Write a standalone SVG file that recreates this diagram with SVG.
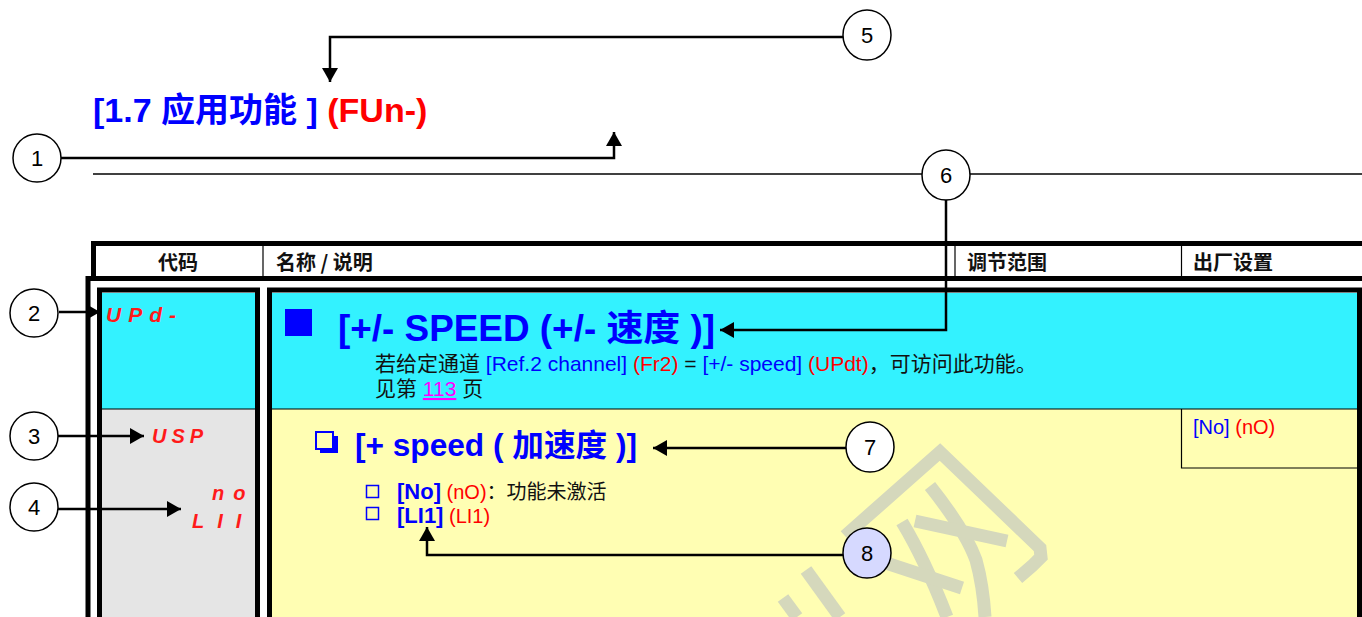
<svg xmlns="http://www.w3.org/2000/svg" width="1362" height="617" viewBox="0 0 1362 617">
<style>
  .lat { font-family: "Liberation Sans", "Noto Sans CJK SC", Arial, sans-serif; }
  .cjk { font-family: "Liberation Sans", "Noto Sans CJK SC", sans-serif; }
  .hdr { font-family: "Noto Sans CJK SC", "Liberation Sans", sans-serif; font-size: 20px; font-weight: bold; fill: #111; }
  .seg { font-family: "Liberation Sans", sans-serif; font-style: italic; font-weight: bold; fill: #ff1a1a; }
  .blue { fill: #0000ff; }
  .red { fill: #ff0000; }
  .blk { fill: #111; }
  .mag { fill: #ff00ff; }
  .callout ellipse { fill: #ffffff; stroke: #000; stroke-width: 1.5; }
  .callout text { font-family: "Liberation Sans", sans-serif; font-size: 22px; fill: #000; text-anchor: middle; }
  .conn { fill: none; stroke: #000; stroke-width: 2.5; }
  .thick { fill: none; stroke: #000; stroke-width: 5; }
  .thin { fill: none; stroke: #000; stroke-width: 1.2; }
  .wm { fill: none; stroke: #d5d8bc; stroke-width: 13; stroke-linecap: butt; stroke-linejoin: miter; }
</style>
<defs>
  <marker id="ah" markerWidth="14" markerHeight="16" refX="14" refY="8" orient="auto" markerUnits="userSpaceOnUse">
    <path d="M0,0 L14,8 L0,16 z" fill="#000"/>
  </marker>
</defs>
<rect width="1362" height="617" fill="#ffffff"/>

<!-- title -->
<g id="title">
  <text class="cjk" x="93" y="122" font-size="34" font-weight="bold"><tspan class="blue">[1.7 应用功能 ]</tspan><tspan class="red"> (FUn-)</tspan></text>
</g>

<!-- separator line -->
<line x1="93" y1="174" x2="1362" y2="174" stroke="#000" stroke-width="1.3"/>

<!-- table frame -->
<g id="table">
  <rect x="93.5" y="243.5" width="1280" height="35" fill="#ffffff"/>
  <line x1="91" y1="243.5" x2="1362" y2="243.5" class="thick"/>
  <line x1="93.5" y1="243" x2="93.5" y2="279" class="thick"/>
  <line x1="86" y1="278.5" x2="1362" y2="278.5" class="thick"/>
  <line x1="263" y1="246" x2="263" y2="276" class="thin"/>
  <line x1="955" y1="246" x2="955" y2="276" class="thin"/>
  <line x1="1181.5" y1="246" x2="1181.5" y2="276" class="thin"/>
  <text class="hdr" x="178" y="270" text-anchor="middle">代码</text>
  <text class="hdr" x="276" y="270">名称 / 说明</text>
  <text class="hdr" x="967" y="270">调节范围</text>
  <text class="hdr" x="1193" y="270">出厂设置</text>
  <line x1="88" y1="276" x2="88" y2="617" class="thick"/>
  <rect x="102" y="293" width="153" height="116" fill="#33f2ff"/>
  <rect x="102" y="409" width="153" height="210" fill="#e5e5e5"/>
  <rect x="99.5" y="290" width="158" height="340" class="thick"/>
  <rect x="272" y="293" width="1085" height="116" fill="#33f2ff"/>
  <rect x="272" y="409" width="1085" height="210" fill="#fffeb3"/>
  <rect x="269.5" y="290" width="1090" height="340" class="thick"/>
  <line x1="102" y1="409" x2="255" y2="409" class="thin"/>
  <line x1="272" y1="409" x2="1357" y2="409" class="thin"/>
  <polyline points="1181.5,409 1181.5,468 1357,468" class="thin"/>
</g>

<!-- watermark -->
<g id="watermark">
  <polyline class="wm" points="845,536 940,452 1040,548 1041,557 1032,566 1018,578"/>
  <path class="wm" d="M930,486 Q965,530 976,560 Q983,585 985,617"/>
  <line class="wm" x1="915" y1="521" x2="1007" y2="541"/>
  <path class="wm" d="M902,522 Q925,560 947,617"/>
  <line class="wm" x1="880" y1="561" x2="962" y2="588"/>
  <line class="wm" x1="806" y1="570" x2="840" y2="617"/>
  <line class="wm" x1="783" y1="598" x2="797" y2="617"/>
</g>

<!-- rows -->
<g id="row-upd">
  <text class="seg" x="106" y="322" font-size="21" letter-spacing="7">UPd-</text>
  <rect x="285" y="309" width="27" height="27" fill="#0000ff"/>
  <text class="cjk blue" x="338" y="341" font-size="36" font-weight="bold" textLength="377" lengthAdjust="spacingAndGlyphs">[+/- SPEED (+/- 速度 )]</text>
  <text class="cjk" x="375" y="371" font-size="21"><tspan class="blk">若给定通道 </tspan><tspan class="blue">[Ref.2 channel]</tspan><tspan class="red"> (Fr2)</tspan><tspan class="blk"> = </tspan><tspan class="blue">[+/- speed]</tspan><tspan class="red"> (UPdt)</tspan><tspan class="blk">，可访问此功能。</tspan></text>
  <text class="cjk" x="375" y="396" font-size="21"><tspan class="blk">见第 </tspan><tspan class="mag" text-decoration="underline">113</tspan><tspan class="blk"> 页</tspan></text>
</g>

<g id="row-usp">
  <text class="seg" x="152" y="443" font-size="20" letter-spacing="5">USP</text>
  <text class="seg" x="212" y="500" font-size="20" letter-spacing="9">no</text>
  <text class="seg" x="192" y="528" font-size="20" letter-spacing="13">LII</text>
  <rect x="320" y="436" width="18" height="17" fill="#0000ff"/>
  <rect x="316" y="432" width="17" height="17" fill="#fffeb3" stroke="#0000ff" stroke-width="2"/>
  <text class="cjk blue" x="355" y="456" font-size="31" font-weight="bold" textLength="282" lengthAdjust="spacingAndGlyphs">[+ speed ( 加速度 )]</text>
  <rect x="366.5" y="485.5" width="12" height="12" fill="none" stroke="#0000ff" stroke-width="1.5"/>
  <rect x="366.5" y="507.5" width="12" height="12" fill="none" stroke="#0000ff" stroke-width="1.5"/>
  <text class="cjk" x="397" y="499" font-size="20"><tspan class="blue" font-weight="bold" font-size="22">[No]</tspan><tspan class="red"> (nO)</tspan><tspan class="blk">：功能未激活</tspan></text>
  <text class="cjk" x="397" y="523" font-size="20"><tspan class="blue" font-weight="bold" font-size="22">[LI1]</tspan><tspan class="red"> (LI1)</tspan></text>
  <text class="cjk" x="1193" y="434" font-size="20"><tspan class="blue">[No]</tspan><tspan class="red"> (nO)</tspan></text>
</g>

<!-- connectors -->
<g id="connectors">
  <polyline class="conn" points="843,37 330,37 330,82" marker-end="url(#ah)"/>
  <polyline class="conn" points="61,158 614,158 614,132" marker-end="url(#ah)"/>
  <polyline class="conn" points="946,199 946,330 720,330" marker-end="url(#ah)"/>
  <polyline class="conn" points="59,312 100,312" marker-end="url(#ah)"/>
  <polyline class="conn" points="58,436 144,436" marker-end="url(#ah)"/>
  <polyline class="conn" points="58,509 181,509" marker-end="url(#ah)"/>
  <polyline class="conn" points="846,448 653,448" marker-end="url(#ah)"/>
  <polyline class="conn" points="843,555 427,555 427,527" marker-end="url(#ah)"/>
</g>

<!-- callouts -->
<g id="c1" class="callout"><ellipse cx="37" cy="158" rx="24" ry="24"/><text x="37" y="166">1</text></g>
<g id="c2" class="callout"><ellipse cx="34" cy="313" rx="24" ry="24"/><text x="34" y="321">2</text></g>
<g id="c3" class="callout"><ellipse cx="34" cy="436" rx="24" ry="24"/><text x="34" y="444">3</text></g>
<g id="c4" class="callout"><ellipse cx="34" cy="507" rx="24" ry="24"/><text x="34" y="515">4</text></g>
<g id="c5" class="callout"><ellipse cx="867" cy="35" rx="24" ry="25"/><text x="867" y="43">5</text></g>
<g id="c6" class="callout"><ellipse cx="946" cy="175" rx="24" ry="25"/><text x="946" y="183">6</text></g>
<g id="c7" class="callout"><ellipse cx="870" cy="447" rx="24" ry="25"/><text x="870" y="455">7</text></g>
<g id="c8" class="callout"><ellipse cx="867" cy="553" rx="24" ry="25" style="fill:#d6d9ff"/><text x="867" y="561">8</text></g>
</svg>
